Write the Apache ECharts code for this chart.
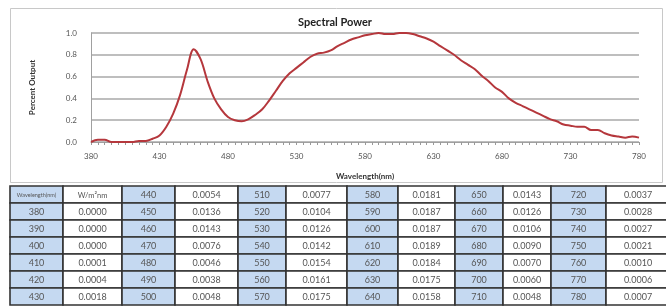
<!DOCTYPE html>
<html><head><meta charset="utf-8">
<script src="https://cdn.jsdelivr.net/npm/echarts@6/dist/echarts.min.js"></script>
<style>html,body{margin:0;padding:0;background:#fff}#c{width:666px;height:306px}</style>
</head><body><div id="c"></div>
<script>
// Chart data (5 nm steps)
const wavelengths = [];
for (let w = 380; w <= 780; w += 5) wavelengths.push(String(w));
const percentOutput = [
0.00,0.02,0.02,0.00,0.00,0.00,0.00,0.01,0.01,0.03,
0.06,0.14,0.26,0.43,0.66,0.85,0.76,0.56,0.40,0.30,
0.23,0.20,0.19,0.21,0.25,0.30,0.38,0.47,0.56,0.63,
0.68,0.73,0.78,0.81,0.82,0.84,0.88,0.91,0.94,0.96,
0.98,0.99,1.00,0.99,0.99,1.00,1.00,0.99,0.97,0.95,
0.92,0.88,0.84,0.80,0.75,0.71,0.67,0.61,0.56,0.50,
0.46,0.40,0.36,0.33,0.30,0.27,0.24,0.21,0.19,0.16,
0.15,0.14,0.14,0.11,0.11,0.08,0.06,0.05,0.04,0.05,0.04
];
const yTicks = [0, 0.2, 0.4, 0.6, 0.8, 1.0];
// Table data (10 nm steps)
const tableWavelengths = [380,390,400,410,420,430,440,450,460,470,480,490,500,510,520,530,540,550,560,570,580,590,600,610,620,630,640,650,660,670,680,690,700,710,720,730,740,750,760,770,780];
const tableValues = ["0.0000","0.0000","0.0000","0.0001","0.0004","0.0018",
"0.0054","0.0136","0.0143","0.0076","0.0046","0.0038","0.0048",
"0.0077","0.0104","0.0126","0.0142","0.0154","0.0161","0.0175",
"0.0181","0.0187","0.0187","0.0189","0.0184","0.0175","0.0158",
"0.0143","0.0126","0.0106","0.0090","0.0070","0.0060","0.0048",
"0.0037","0.0028","0.0027","0.0021","0.0010","0.0006","0.0007"];
const tableHeader = ["Wavelength(nm)", "W/m\u00b2nm"];

const FONT = 'Lato, "Open Sans", sans-serif';
const colX = [10,63,122,175,238,286,347,398,455,503,551,606,670];
const rowTop = 186, rowH = 17, nRows = 7;
const g = [];
// chart border
g.push({type:'rect', shape:{x:10.5,y:8.5,width:652,height:174}, style:{fill:'none', stroke:'#c8c8c8', lineWidth:1}, z:0});
const flat = [[tableHeader[0], tableHeader[1], true]];
for (let i = 0; i < tableWavelengths.length; i++) flat.push([String(tableWavelengths[i]), tableValues[i], false]);
for (let k = 0; k < flat.length; k++) {
  const pair = Math.floor(k / nRows), row = k % nRows;
  const y = rowTop + row * rowH;
  const x0 = colX[pair*2], x1 = colX[pair*2+1], x2 = colX[pair*2+2];
  const isHdr = flat[k][2];
  g.push({type:'rect', shape:{x:x0,y:y,width:x1-x0,height:rowH}, style:{fill:'#c5d9f1', stroke:'#333', lineWidth:1.6}, z:1});
  g.push({type:'rect', shape:{x:x1,y:y,width:x2-x1,height:rowH}, style:{fill:'#ffffff', stroke:'#333', lineWidth:1.6}, z:1});
  g.push({type:'text', x:(x0+x1)/2, y:y+rowH/2+1, style:{text:flat[k][0], fill:'#555', font:(isHdr?'5.5px ':'9px ')+FONT, align:'center', verticalAlign:'middle'}, z:2});
  g.push({type:'text', x:(x1+x2)/2, y:y+rowH/2+1, style:{text:flat[k][1], fill:'#555', font:(isHdr?'7.5px ':'9px ')+FONT, align:'center', verticalAlign:'middle'}, z:2});
}

const chart = echarts.init(document.getElementById('c'));
chart.setOption({
  animation:false,
  backgroundColor:'#fff',
  title:{text:'Spectral Power', left:330, top:12, textAlign:'center',
    textStyle:{fontFamily:FONT, fontSize:11, fontWeight:'bold', color:'#222'}},
  grid:{left:91, top:33, width:548, height:109},
  xAxis:{type:'category', data:wavelengths, boundaryGap:false,
    name:'Wavelength(nm)', nameLocation:'middle', nameGap:30,
    nameTextStyle:{fontFamily:FONT, fontSize:8, fontWeight:'bold', color:'#333'},
    axisLine:{lineStyle:{color:'#a0a0a0', width:1}},
    axisTick:{show:true, interval:0, length:3, lineStyle:{color:'#999'}},
    axisLabel:{interval:9, fontFamily:FONT, fontSize:8, color:'#555', margin:10},
    splitLine:{show:false}},
  yAxis:{type:'value', min:0, max:1, interval:0.2,
    name:'Percent Output', nameLocation:'middle', nameGap:55, nameRotate:90,
    nameTextStyle:{fontFamily:FONT, fontSize:8, fontWeight:'bold', color:'#333'},
    axisLine:{show:true, lineStyle:{color:'#a0a0a0'}},
    axisTick:{show:false},
    axisLabel:{fontFamily:FONT, fontSize:8, color:'#555', margin:14, formatter:v=>v.toFixed(1)},
    splitLine:{lineStyle:{color:'#a8a8a8', width:1.5}}},
  series:[{type:'line', data:percentOutput, showSymbol:false, smooth:0.35,
    lineStyle:{color:'#b5373c', width:2}, itemStyle:{color:'#b5373c'}}],
  graphic:g
});
</script></body></html>
